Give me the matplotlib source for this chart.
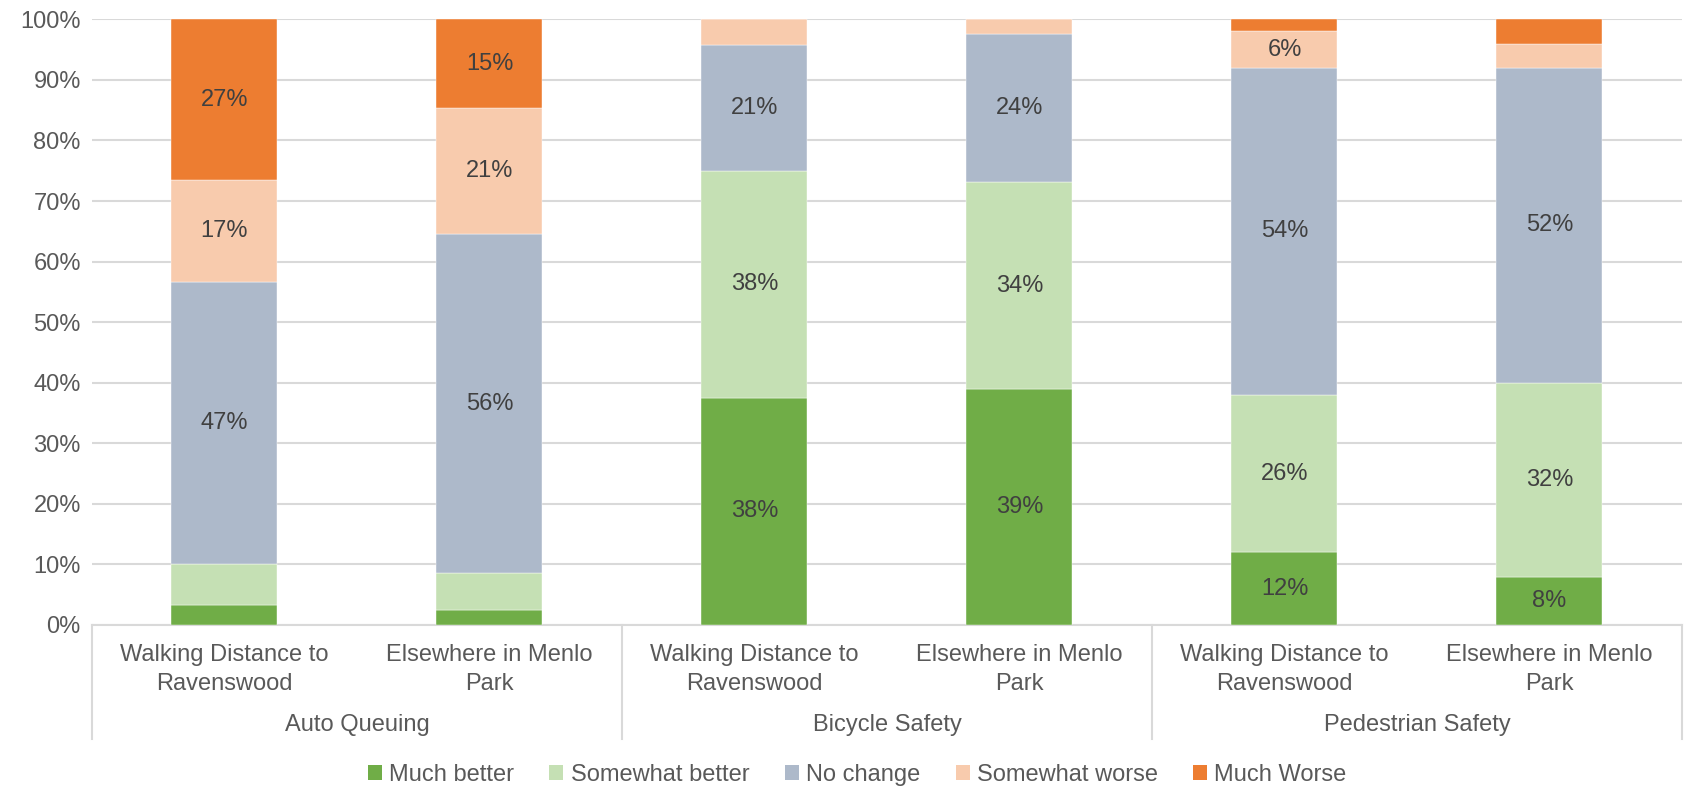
import matplotlib.pyplot as plt
import matplotlib.transforms as mtransforms
from matplotlib.patches import Patch
import numpy as np

plt.rcParams['font.family'] = ['Liberation Sans', 'DejaVu Sans']

groups = ['Auto Queuing', 'Bicycle Safety', 'Pedestrian Safety']
places = ['Walking Distance to\nRavenswood', 'Elsewhere in Menlo\nPark']
series = ['Much better', 'Somewhat better', 'No change', 'Somewhat worse', 'Much Worse']
colors = ['#70AD47', '#C5E0B4', '#ADB9CA', '#F8CBAD', '#ED7D31']

# percent per bar, order: AQ walk, AQ else, Bike walk, Bike else, Ped walk, Ped else
much_better = [3.3, 2.4, 37.5, 39.0, 12.0, 8.0]
somewhat_better = [6.7, 6.1, 37.5, 34.1, 26.0, 32.0]
no_change = [46.7, 56.1, 20.8, 24.4, 54.0, 52.0]
somewhat_worse = [16.7, 20.8, 4.2, 2.5, 6.0, 4.0]
much_worse = [26.6, 14.6, 0.0, 0.0, 2.0, 4.0]

# which segments carry a data label in the original
show_labels = [
    [False, False, True, True, True, True],
    [False, False, True, True, True, True],
    [True, True, True, True, True, True],
    [True, True, False, False, True, False],
    [True, True, False, False, False, False],
]

values = [much_better, somewhat_better, no_change, somewhat_worse, much_worse]
fs = 17

fig = plt.figure(figsize=(16.84, 7.89), dpi=100)
ax = fig.add_axes([0.0546, 0.2079, 0.9442, 0.7676])

x = np.arange(6)
bottom = np.zeros(6)
for vals, col, show in zip(values, colors, show_labels):
    vals = np.array(vals)
    ax.bar(x, vals, 0.4, bottom=bottom, color=col, edgecolor='white',
           linewidth=0.3, zorder=3)
    for i in range(6):
        if show[i]:
            ax.text(x[i], bottom[i] + vals[i] / 2, '%d%%' % round(vals[i]),
                    ha='center', va='center', fontsize=fs, color='#404040', zorder=4)
    bottom += vals

ax.set_xlim(-0.5, 5.5)
ax.set_ylim(0, 100)
ax.set_yticks(np.arange(0, 101, 10))
ax.set_yticklabels(['%d%%' % v for v in range(0, 101, 10)])
ax.grid(axis='y', color='#D9D9D9', linewidth=1.5, zorder=0)
ax.set_axisbelow(True)
for s in ['top', 'right', 'left']:
    ax.spines[s].set_visible(False)
ax.spines['bottom'].set_color('#D9D9D9')
ax.spines['bottom'].set_linewidth(1.5)
ax.tick_params(axis='y', length=0, labelsize=fs, labelcolor='#595959', pad=8)
ax.tick_params(axis='x', length=0, labelsize=fs, labelcolor='#595959', pad=14)
ax.set_xticks(x)
ax.set_xticklabels(places * 3, linespacing=1.38)

trans = mtransforms.blended_transform_factory(ax.transData, ax.transAxes)
for sep in [-0.5, 1.5, 3.5, 5.5]:
    ax.plot([sep, sep], [0, -0.188], transform=trans, color='#D9D9D9',
            linewidth=1.5, clip_on=False)
for gi, g in enumerate(groups):
    ax.text(gi * 2 + 0.5, -0.165, g, transform=trans, ha='center', va='center',
            fontsize=fs, color='#595959')

handles = [Patch(facecolor=c, label=s) for s, c in zip(series, colors)]
fig.legend(handles=handles, loc='center', bbox_to_anchor=(0.509, 0.018), ncol=5,
           frameon=False, fontsize=fs, handlelength=0.6, handleheight=0.6,
           handletextpad=0.3, columnspacing=1.5, labelcolor='#595959')

fig.savefig('out.png', dpi=100)
